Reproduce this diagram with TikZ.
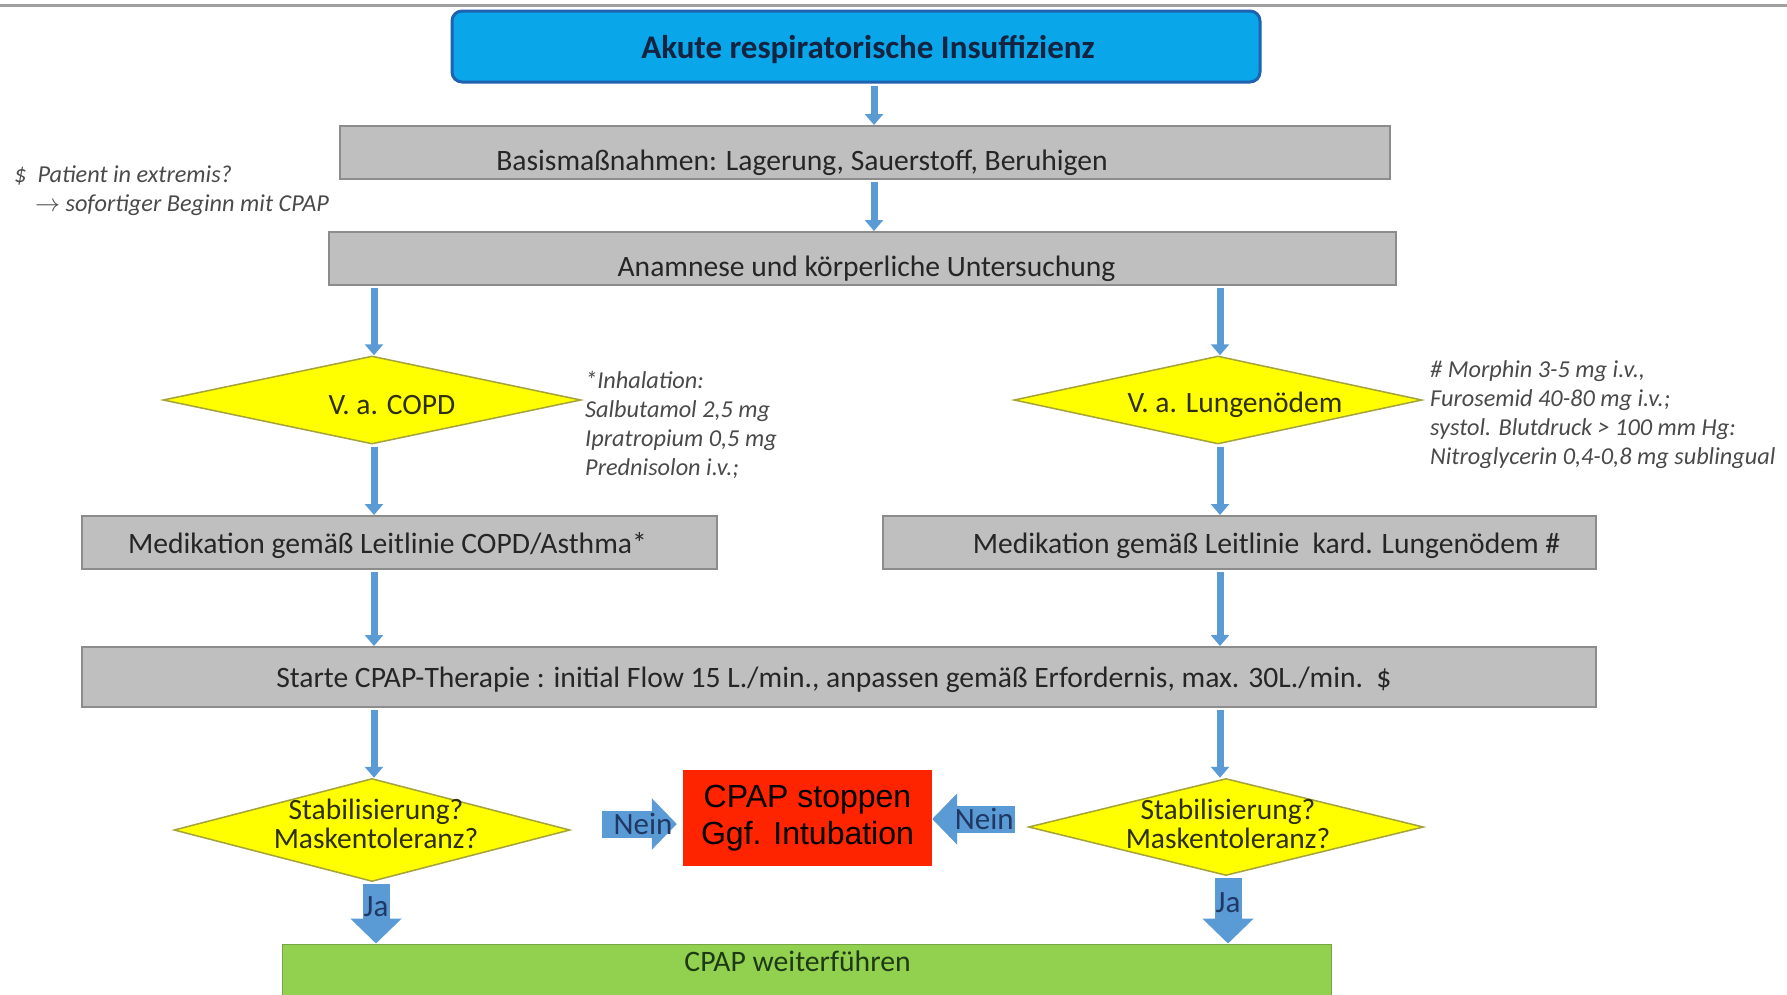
\documentclass[tikz,border=0pt]{standalone}
\usepackage{fontspec}
\setmainfont{Carlito}
\newfontfamily\arialfont{Liberation Sans}
\usetikzlibrary{shapes.geometric,arrows.meta,calc}
\definecolor{titlefill}{HTML}{09A6EA}
\definecolor{titleborder}{HTML}{1F62B0}
\definecolor{titletext}{HTML}{14233F}
\definecolor{boxgray}{HTML}{BFBFBF}
\definecolor{boxborder}{HTML}{8C8C8C}
\definecolor{boxtext}{HTML}{262626}
\definecolor{diayellow}{HTML}{FFFF00}
\definecolor{diaborder}{HTML}{A3A33A}
\definecolor{diatext}{HTML}{2E2E10}
\definecolor{arrblue}{HTML}{5B9BD5}
\definecolor{neintext}{HTML}{1F3864}
\definecolor{redfill}{HTML}{FF2400}
\definecolor{greenfill}{HTML}{92D050}
\definecolor{greentext}{HTML}{1E3A14}
\definecolor{notegray}{HTML}{4A4A4A}
\definecolor{topline}{HTML}{A0A0A0}
\begin{document}
\begin{tikzpicture}[x=1pt,y=-1pt,
  titlebox/.style={draw=titleborder, fill=titlefill, line width=3pt, rounded corners=10pt, inner sep=0pt},
  ttext/.style={text=titletext, font=\bfseries\fontsize{33}{36}\selectfont, inner sep=0pt},
  gbox/.style={draw=boxborder, fill=boxgray, line width=2pt, inner sep=0pt},
  btext/.style={text=boxtext, font=\fontsize{29.6}{31}\selectfont, inner sep=0pt},
  dia/.style={diamond, draw=diaborder, fill=diayellow, line width=1.5pt, inner sep=0pt},
  dtext/.style={text=diatext, font=\fontsize{29.5}{29}\selectfont, align=center, inner sep=0pt},
  note/.style={text=notegray, font=\itshape\fontsize{24.3}{29}\selectfont, align=left, anchor=north west, inner sep=0pt},
  arr/.style={draw=arrblue, line width=7pt, -{Triangle[width=18pt,length=11pt]}, shorten <=2pt},
  blockarr/.style={draw=arrblue, line width=27pt, -{Triangle[width=50pt,length=25pt]}},
  ntext/.style={text=neintext, font=\fontsize{31}{32}\selectfont, inner sep=0pt},
  redbox/.style={fill=redfill, inner sep=0pt, align=center, font=\arialfont\fontsize{32}{37.6}\selectfont},
  greenbox/.style={fill=greenfill, draw=greenfill!80!black, line width=1pt, inner sep=0pt},
  gtext/.style={text=greentext, font=\fontsize{29.7}{31}\selectfont, inner sep=0pt}
]
\useasboundingbox (0,0) rectangle (1787,994);
\fill[white] (0,0) rectangle (1787,994);
\draw[topline, line width=3pt] (0,5) -- (1787,5);

% column coordinates
\coordinate (c1) at (874,0);
\coordinate (cL) at (374,0);
\coordinate (cR) at (1220,0);

% nodes
\node[titlebox, minimum width=808pt, minimum height=71pt,
  label={[ttext,xshift=12pt,yshift=-3pt]center:{Akute respiratorische Insuffizienz}}] (title) at (856,46.5) {};
\node[gbox, minimum width=1050pt, minimum height=53pt,
  label={[btext,xshift=-63pt,yshift=-10pt]center:{Basismaßnahmen: Lagerung, Sauerstoff, Beruhigen}}] (basis) at (865,152.5) {};
\node[gbox, minimum width=1067pt, minimum height=53pt,
  label={[btext,xshift=4pt,yshift=-10pt]center:{Anamnese und körperliche Untersuchung}}] (anam) at (862.5,258.5) {};

\node[note] (extremis) at (14,166) {\$\ \ Patient in extremis?\\\hspace*{21pt}$\rightarrow$ sofortiger Beginn mit CPAP};

\node[dia, minimum width=418pt, minimum height=88pt,
  label={[dtext,xshift=20pt,yshift=-5pt]center:{V. a. COPD}}] (copd) at (372,400) {};
\node[dia, minimum width=408pt, minimum height=88pt,
  label={[dtext,xshift=17pt,yshift=-5pt]center:{V. a. Lungenödem}}] (lung) at (1218,400) {};

\node[note] (inhal) at (585,371) {*Inhalation:\\Salbutamol 2,5 mg\\Ipratropium 0,5 mg\\Prednisolon i.v.;};
\node[note] (morph) at (1430,360) {\# Morphin 3-5 mg i.v.,\\Furosemid 40-80 mg i.v.;\\systol. Blutdruck > 100 mm Hg:\\Nitroglycerin 0,4-0,8 mg sublingual};

\node[gbox, minimum width=635pt, minimum height=53pt,
  label={[btext,xshift=-12pt,yshift=-3pt]center:{Medikation gemäß Leitlinie COPD/Asthma*}}] (medL) at (399.5,542.5) {};
\node[gbox, minimum width=713pt, minimum height=53pt,
  label={[btext,xshift=27pt,yshift=-3pt]center:{Medikation gemäß Leitlinie\ \ kard. Lungenödem \#}}] (medR) at (1239.5,542.5) {};

\node[gbox, minimum width=1514pt, minimum height=60pt,
  label={[btext,xshift=-5pt,yshift=-3pt]center:{Starte CPAP-Therapie : initial Flow 15 L./min., anpassen gemäß Erfordernis, max. 30L./min.\ \ \$}}] (starte) at (839,677) {};

\node[dia, minimum width=396pt, minimum height=103pt,
  label={[dtext,xshift=4pt,yshift=6.5pt]center:{Stabilisierung?\\Maskentoleranz?}}] (stab1) at (372,830) {};
\node[dia, minimum width=395pt, minimum height=97pt,
  label={[dtext,xshift=2pt,yshift=3.5pt]center:{Stabilisierung?\\Maskentoleranz?}}] (stab2) at (1226,827) {};

\node[redbox, minimum width=249pt, minimum height=96pt] (red) at (807.5,818) {CPAP stoppen\\Ggf. Intubation};

\node[greenbox, minimum width=1049pt, minimum height=60pt,
  label={[gtext,xshift=-9pt,yshift=13pt]center:{CPAP weiterführen}}] (green) at (806.5,974) {};

% connectors
\draw[arr] (title.south -| c1) -- (basis.north -| c1);
\draw[arr] (basis.south -| c1) -- (anam.north -| c1);
\draw[arr] (anam.south -| cL) -- (copd.north -| cL);
\draw[arr] (anam.south -| cR) -- (lung.north -| cR);
\draw[arr] (copd.south -| cL) -- (medL.north -| cL);
\draw[arr] (lung.south -| cR) -- (medR.north -| cR);
\draw[arr] (medL.south -| cL) -- (starte.north -| cL);
\draw[arr] (medR.south -| cR) -- (starte.north -| cR);
\draw[arr] (starte.south -| cL) -- (stab1.north -| cL);
\draw[arr] (starte.south -| cR) -- (stab2.north -| cR);

\draw[blockarr] ([xshift=31pt,yshift=6pt]stab1.east) -- ([xshift=-6pt,yshift=6pt]stab1.east -| red.west)
  node[ntext, pos=0.55] {Nein};
\draw[blockarr] ([xshift=-13pt,yshift=8pt]stab2.west) -- ([yshift=8pt]stab2.west -| red.east)
  node[ntext, pos=0.37] {Nein};
\draw[blockarr] ([xshift=4pt,yshift=-2pt]stab1.south) -- ([xshift=4pt]stab1.south |- green.north)
  node[ntext, pos=0.38] {Ja};
\draw[blockarr] ([xshift=2pt,yshift=-2pt]stab2.south) -- ([xshift=2pt]stab2.south |- green.north)
  node[ntext, pos=0.38] {Ja};
\end{tikzpicture}
\end{document}
